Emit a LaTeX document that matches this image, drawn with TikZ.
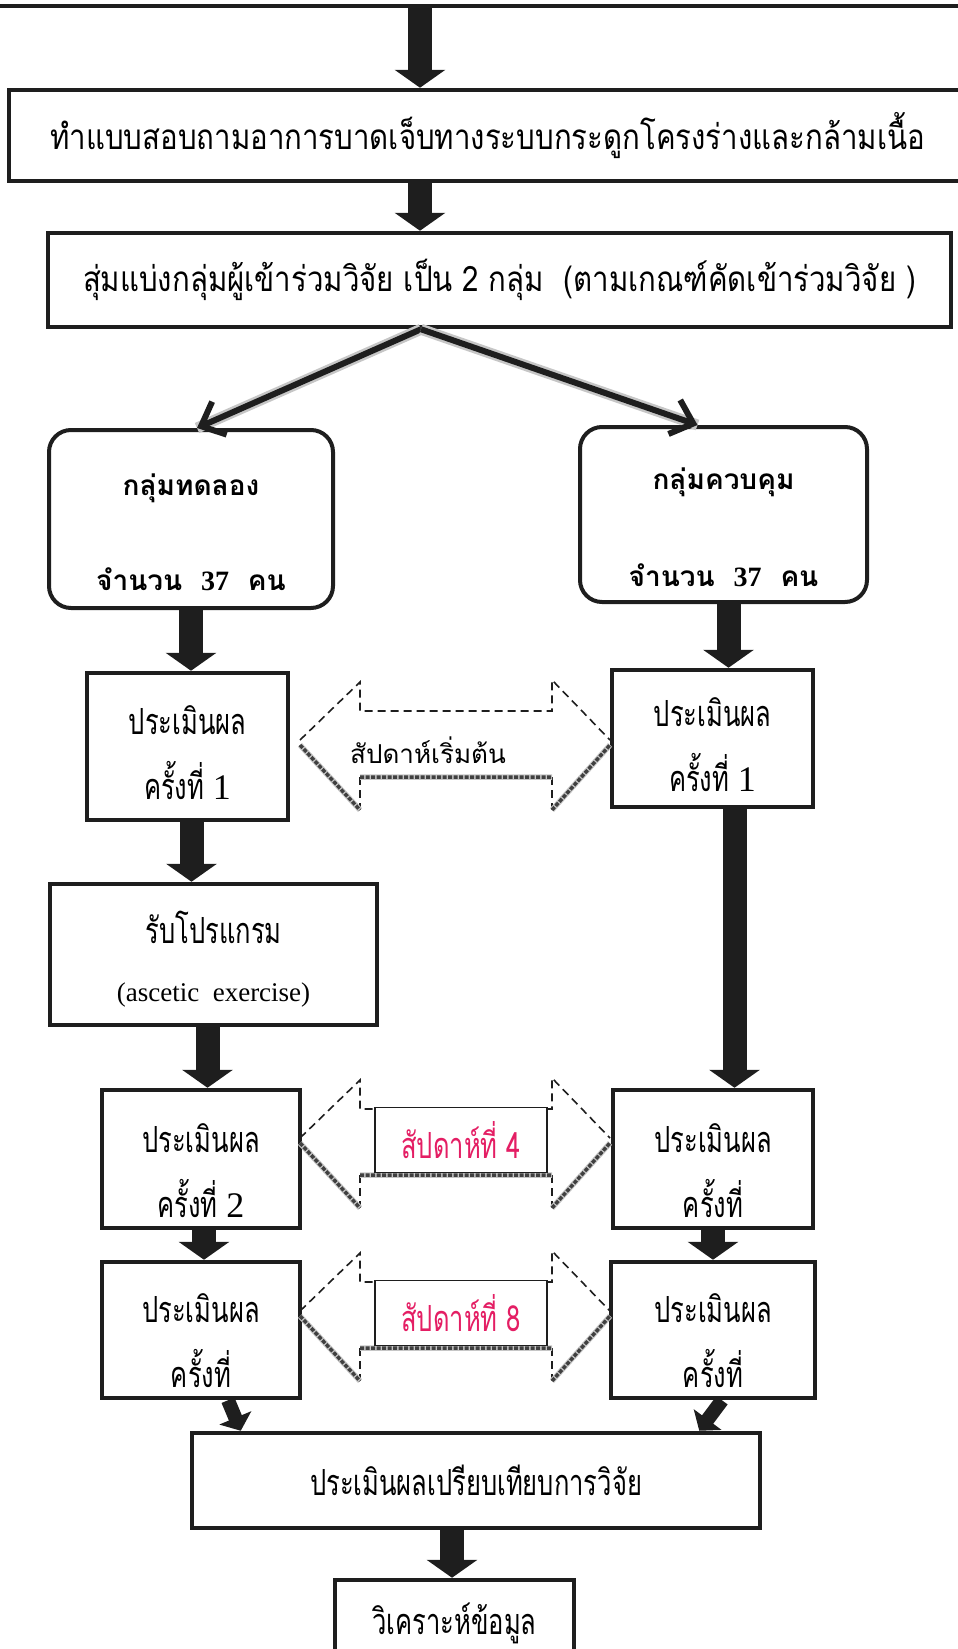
\documentclass[tikz,border=0pt]{standalone}
\usepackage{fontspec}
\setmainfont{Liberation Serif}
\newfontfamily\thai[Script=Thai]{Loma}
\newfontfamily\thaiw[Script=Thai,FakeStretch=0.84]{Loma}
\newfontfamily\thain[Script=Thai,FakeStretch=0.71]{Loma}
\usetikzlibrary{arrows.meta}
\definecolor{weekred}{RGB}{228,30,100}
\definecolor{ink}{RGB}{30,30,30}
\newcommand\lowr[1]{\rule{0pt}{#1pt}}

\tikzset{
  box/.style={draw=ink, line width=4.5pt, inner sep=0pt, align=center},
  roundbox/.style={box, line width=4pt, rounded corners=22pt},
  blockarrow/.style={draw=ink, line width=24pt, -{Triangle[length=18pt 0, width=50pt 0]}},
  stubarrow/.style={draw=ink, line width=14pt, -{Triangle[length=14pt 0, width=34pt 0]}},
  splitarrow/.style={draw=ink, line width=6pt, -{Straight Barb[length=20pt 0, width=36pt 0]},
    preaction={draw=gray!45, line width=11pt, -}},
  weekdash/.style={draw=ink, line width=1.6pt, dash pattern=on 8pt off 5pt},
  weekshade/.style={draw=black!75, line width=3.5pt, dash pattern=on 4pt off 1.5pt,
    preaction={draw=gray!45, line width=5.5pt}},
  weeklabel/.style={draw=ink, line width=1.2pt, fill=white, text=weekred,
    minimum width=172pt, minimum height=65pt, font=\thain\fontsize{36}{40}\selectfont},
  evalbox/.style={box, font=\thain\fontsize{36}{65}\selectfont}
}

\begin{document}
\begin{tikzpicture}[x=1pt,y=-1pt]
\useasboundingbox (0,0) rectangle (958,1649);
% boxes
\node[box, minimum width=980pt, minimum height=92pt] (prev) at (480,-40) {};
\node[box, minimum width=957pt, minimum height=91pt, font=\thaiw\fontsize{35}{40}\selectfont] (survey) at (487.5,135.5)
  {ทำแบบสอบถามอาการบาดเจ็บทางระบบกระดูกโครงร่างและกล้ามเนื้อ};
\node[box, minimum width=903pt, minimum height=94pt, font=\thaiw\fontsize{35}{40}\selectfont] (random) at (499.5,280)
  {สุ่มแบ่งกลุ่มผู้เข้าร่วมวิจัย เป็น 2 กลุ่ม\ \ (ตามเกณฑ์คัดเข้าร่วมวิจัย )};
\node[roundbox, minimum width=284pt, minimum height=178pt, font=\thai\bfseries\fontsize{28}{95}\selectfont] (expgrp) at (191,519)
  {\lowr{48}กลุ่มทดลอง\\จำนวน~ {\rmfamily 37}~ คน};
\node[roundbox, minimum width=287pt, minimum height=175pt, font=\thai\bfseries\fontsize{28}{97}\selectfont] (ctrlgrp) at (723.5,514.5)
  {\lowr{48}กลุ่มควบคุม\\จำนวน~ {\rmfamily 37}~ คน};
\node[evalbox, minimum width=201pt, minimum height=147pt] (expA) at (187.5,746.5) {\lowr{42}ประเมินผล\\ครั้งที่ {\rmfamily 1}};
\node[evalbox, minimum width=201pt, minimum height=137pt] (ctrlA) at (712.5,738.5) {\lowr{42}ประเมินผล\\ครั้งที่ {\rmfamily 1}};
\node[evalbox, minimum width=327pt, minimum height=141pt, font=\thain\fontsize{36}{58}\selectfont] (prog) at (213.5,954.5)
  {\lowr{42}รับโปรแกรม\\{\rmfamily\fontsize{27}{30}\selectfont (ascetic~ exercise)}};
\node[evalbox, minimum width=198pt, minimum height=138pt] (expB) at (201,1159) {\lowr{52}ประเมินผล\\ครั้งที่ {\rmfamily 2}};
\node[evalbox, minimum width=200pt, minimum height=138pt] (ctrlB) at (713,1159) {\lowr{52}ประเมินผล\\ครั้งที่};
\node[evalbox, minimum width=198pt, minimum height=136pt] (expC) at (201,1330) {\lowr{50}ประเมินผล\\ครั้งที่};
\node[evalbox, minimum width=204pt, minimum height=136pt] (ctrlC) at (713,1330) {\lowr{50}ประเมินผล\\ครั้งที่};
\node[evalbox, minimum width=568pt, minimum height=95pt] (compare) at (476,1480.5) {ประเมินผลเปรียบเทียบการวิจัย};
\node[evalbox, minimum width=239pt, minimum height=86pt] (analyse) at (454.5,1623) {วิเคราะห์ข้อมูล};
% arrows
\draw[blockarrow] ([xshift=-60pt]prev.south) -- ([xshift=-60pt]prev.south |- survey.north);
\draw[blockarrow] ([xshift=-67.5pt]survey.south) -- ([xshift=-67.5pt]survey.south |- random.north);
\draw[splitarrow] ([xshift=-78.5pt]random.south) -- ([xshift=6pt]expgrp.north);
\draw[splitarrow] ([xshift=-78.5pt]random.south) -- ([xshift=-26pt]ctrlgrp.north);
\draw[blockarrow] (expgrp.south) -- (expgrp.south |- expA.north);
\draw[blockarrow] ([xshift=5pt]ctrlgrp.south) -- ([xshift=5pt]ctrlgrp.south |- ctrlA.north);
\draw[blockarrow] ([xshift=4pt]expA.south) -- ([xshift=4pt]expA.south |- prog.north);
\draw[blockarrow] ([xshift=22pt]ctrlA.south) -- ([xshift=22pt]ctrlA.south |- ctrlB.north);
\draw[blockarrow] ([xshift=-6pt]prog.south) -- ([xshift=-6pt]prog.south |- expB.north);
\draw[blockarrow] ([xshift=3pt]expB.south) -- ([xshift=3pt]expB.south |- expC.north);
\draw[blockarrow] (ctrlB.south) -- (ctrlB.south |- ctrlC.north);
\draw[stubarrow] ([xshift=27pt]expC.south) -- ([xshift=51pt]compare.north west);
\draw[stubarrow] ([xshift=9pt]ctrlC.south) -- ([xshift=-63pt]compare.north east);
\draw[blockarrow] ([xshift=-24pt]compare.south) -- ([xshift=-24pt]compare.south |- analyse.north);
% week arrows
\foreach \t in {740,1138,1311}{
  \draw[weekdash] (300,\t) -- (360,\t-58) -- (360,\t-29) -- (552,\t-29) -- (552,\t-60) -- (610,\t);
  \draw[weekdash] (360,\t+37) -- (360,\t+70) (552,\t+37) -- (552,\t+70);
  \draw[weekshade] (300,\t+5) -- (360,\t+70) (360,\t+37) -- (552,\t+37) (552,\t+70) -- (610,\t+5);
}
\node[font=\thai\fontsize{26}{30}\selectfont] (week0) at (428,750) {สัปดาห์เริ่มต้น};
\node[weeklabel] (week4) at (461,1140) {สัปดาห์ที่ 4};
\node[weeklabel] (week8) at (461,1313) {สัปดาห์ที่ 8};
\end{tikzpicture}
\end{document}
